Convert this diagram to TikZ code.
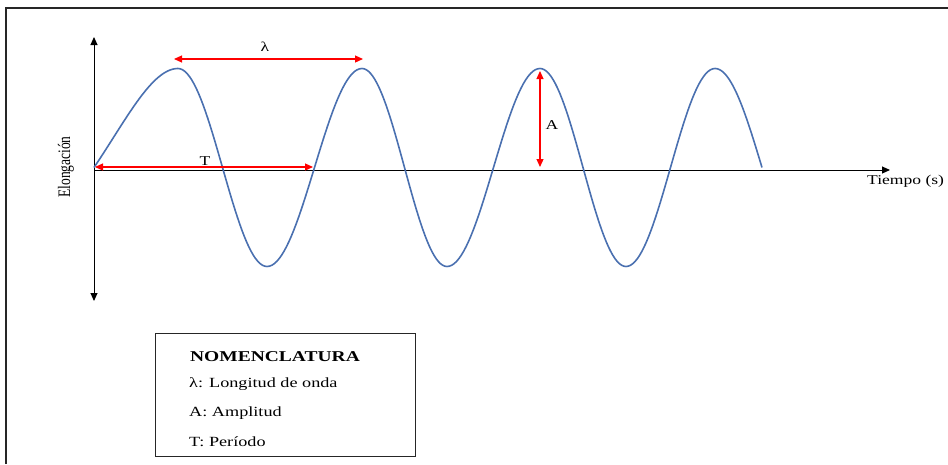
\documentclass[tikz,border=0pt]{standalone}
\usepackage{fontspec}
\setmainfont{Liberation Serif}
\usetikzlibrary{arrows.meta}
\definecolor{wavec}{RGB}{74,112,176}
\newcommand{\hstr}[1]{\scalebox{1.3}[1]{#1}}
\begin{document}
\begin{tikzpicture}[x=1pt,y=-1pt,
  frame/.style={line width=2pt, black!85},
  axisline/.style={line width=1pt, black},
  dimline/.style={red, line width=1.2pt, {Triangle[length=8pt,width=7pt]}-{Triangle[length=8pt,width=7pt]}},
  wave/.style={wavec, line width=1.6pt, line join=round},
  lbl/.style={inner sep=0pt, font=\fontsize{13.5}{15}\selectfont},
  leg/.style={inner sep=0pt, font=\fontsize{14}{16}\selectfont},
]
\useasboundingbox (0,0) rectangle (948,464);
\draw[frame] (6,464) -- (6,8) -- (948,8);

% axes
\coordinate (ytop) at (94,37);
\coordinate (ybot) at (94,301);
\coordinate (O) at (94,170);
\coordinate (xend) at (890,170);
\draw[axisline, {Triangle[length=8pt,width=7pt]}-{Triangle[length=8pt,width=7pt]}] (ybot) -- (ytop);
\draw[axisline, -{Triangle[length=8pt,width=7pt]}] (O) -- (xend);

% wave
\def\cy{167.5}
\def\am{99}
\draw[wave] (94,\cy)
  -- plot[domain=0:1,samples=50] ({94+84*\x},{\cy-\am*sin(90*(0.8*\x+0.2*\x*\x))})
  -- plot[domain=0:1,samples=40] ({178+89*\x},{\cy-\am*cos(180*\x)})
  -- plot[domain=0:1,samples=40] ({267+95*\x},{\cy+\am*cos(180*\x)})
  -- plot[domain=0:1,samples=40] ({362+85*\x},{\cy-\am*cos(180*\x)})
  -- plot[domain=0:1,samples=40] ({447+93*\x},{\cy+\am*cos(180*\x)})
  -- plot[domain=0:1,samples=40] ({540+86*\x},{\cy-\am*cos(180*\x)})
  -- plot[domain=0:1,samples=40] ({626+89*\x},{\cy+\am*cos(180*\x)})
  -- plot[domain=0:1,samples=40] ({715+47*\x},{\cy-\am*cos(90*\x)});

% dimension arrows
\coordinate (l1) at (174,59);
\coordinate (l2) at (363,59);
\coordinate (t1) at (95,167);
\coordinate (t2) at (313,167);
\coordinate (a1) at (540,71);
\coordinate (a2) at (540,167);
\draw[dimline] (l1) -- (l2);
\draw[dimline] (t1) -- (t2);
\draw[dimline] (a1) -- (a2);
\node[lbl] (lam) at (265,47) {\hstr{λ}};
\node[lbl] (tlab) at (205,161) {\hstr{T}};
\node[lbl] (alab) at (552,125) {\hstr{A}};

% axis labels
\node[lbl, anchor=west] (tiempo) at (867,181) {\hstr{Tiempo (s)}};
\node[lbl, rotate=90] (elong) at (66,167) {\scalebox{1}[1.3]{Elongación}};

% legend
\node[draw, line width=1pt, black!85, minimum width=260pt, minimum height=123pt, inner sep=0pt] (legend) at (285,394.5) {};
\node[leg, font=\fontsize{15}{17}\selectfont\bfseries] (nom) at (275,357) {\hstr{NOMENCLATURA}};
\node[leg, anchor=west] (e1) at (189,384) {\hstr{λ: Longitud de onda}};
\node[leg, anchor=west] (e2) at (189,413) {\hstr{A: Amplitud}};
\node[leg, anchor=west] (e3) at (189,442) {\hstr{T: Período}};
\end{tikzpicture}
\end{document}
